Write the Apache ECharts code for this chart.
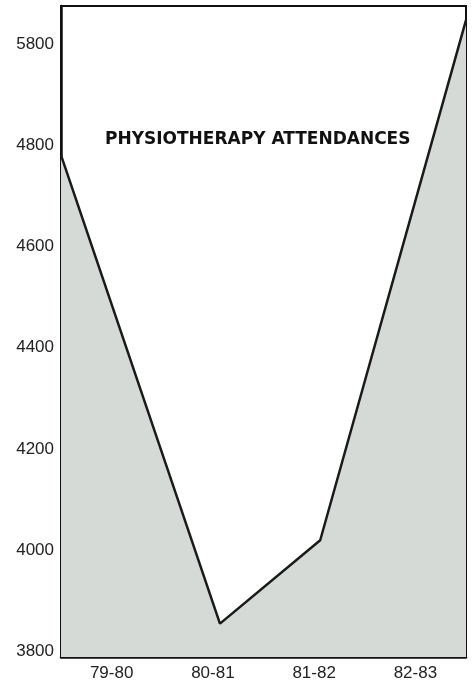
<!DOCTYPE html>
<html>
<head>
<meta charset="utf-8">
<script src="https://cdn.jsdelivr.net/npm/echarts@6/dist/echarts.min.js"></script>
<style>
html,body{margin:0;padding:0;background:#fff;}
#c{width:476px;height:685px;}
</style>
</head>
<body>
<div id="c"></div>
<script>
const periods = ['79-80', '80-81', '81-82', '82-83'];
const periodPos = [0, 1.57, 2.56, 4];
const attendances = [4793, 3866, 4031, 5060];
const tickValues = [3800, 4000, 4200, 4400, 4600, 4800, 5000];
const tickLabels = ['3800', '4000', '4200', '4400', '4600', '4800', '5800'];
const chartTitle = 'PHYSIOTHERAPY ATTENDANCES';

const chart = echarts.init(document.getElementById('c'), null, {renderer: 'canvas'});
const font = '"Liberation Sans", Arial, Helvetica, sans-serif';
chart.setOption({
  animation: false,
  backgroundColor: '#ffffff',
  title: {
    text: chartTitle,
    left: 100,
    top: 126,
    textStyle: {fontFamily: '"DejaVu Sans", sans-serif', fontWeight: 'bold', fontSize: 17, color: '#111'}
  },
  grid: {
    left: 61, right: 10, top: 6, bottom: 28,
    show: true, borderColor: '#111', borderWidth: 2, backgroundColor: 'transparent'
  },
  xAxis: {
    type: 'value', min: 0, max: 4, interval: 0.5,
    axisLine: {show: true, lineStyle: {color: '#111', width: 2.5}},
    axisTick: {show: false},
    splitLine: {show: false},
    axisLabel: {
      margin: 8,
      fontFamily: font, fontSize: 17, color: '#222',
      showMinLabel: true, showMaxLabel: true,
      formatter: function (v) {
        const i = Math.floor(v);
        return (Math.abs(v - i - 0.5) < 1e-6 && periods[i]) ? periods[i] : '';
      }
    }
  },
  yAxis: {
    type: 'value', min: 3800, max: 5088, interval: 200,
    axisLine: {show: true, lineStyle: {color: '#111', width: 2.5}},
    axisTick: {show: false},
    splitLine: {show: false},
    axisLabel: {
      margin: 7,
      verticalAlign: 'bottom',
      lineHeight: 12,
      fontFamily: font, fontSize: 17, color: '#222',
      formatter: function (v) {
        const i = tickValues.indexOf(Math.round(v));
        return i >= 0 ? tickLabels[i] : '';
      }
    }
  },
  series: [{
    type: 'line',
    data: attendances.map((v, i) => [periodPos[i], v]),
    symbol: 'none',
    lineStyle: {color: '#1a1a1a', width: 2.5},
    areaStyle: {color: '#d6dad6', opacity: 1}
  }]
});
</script>
</body>
</html>
